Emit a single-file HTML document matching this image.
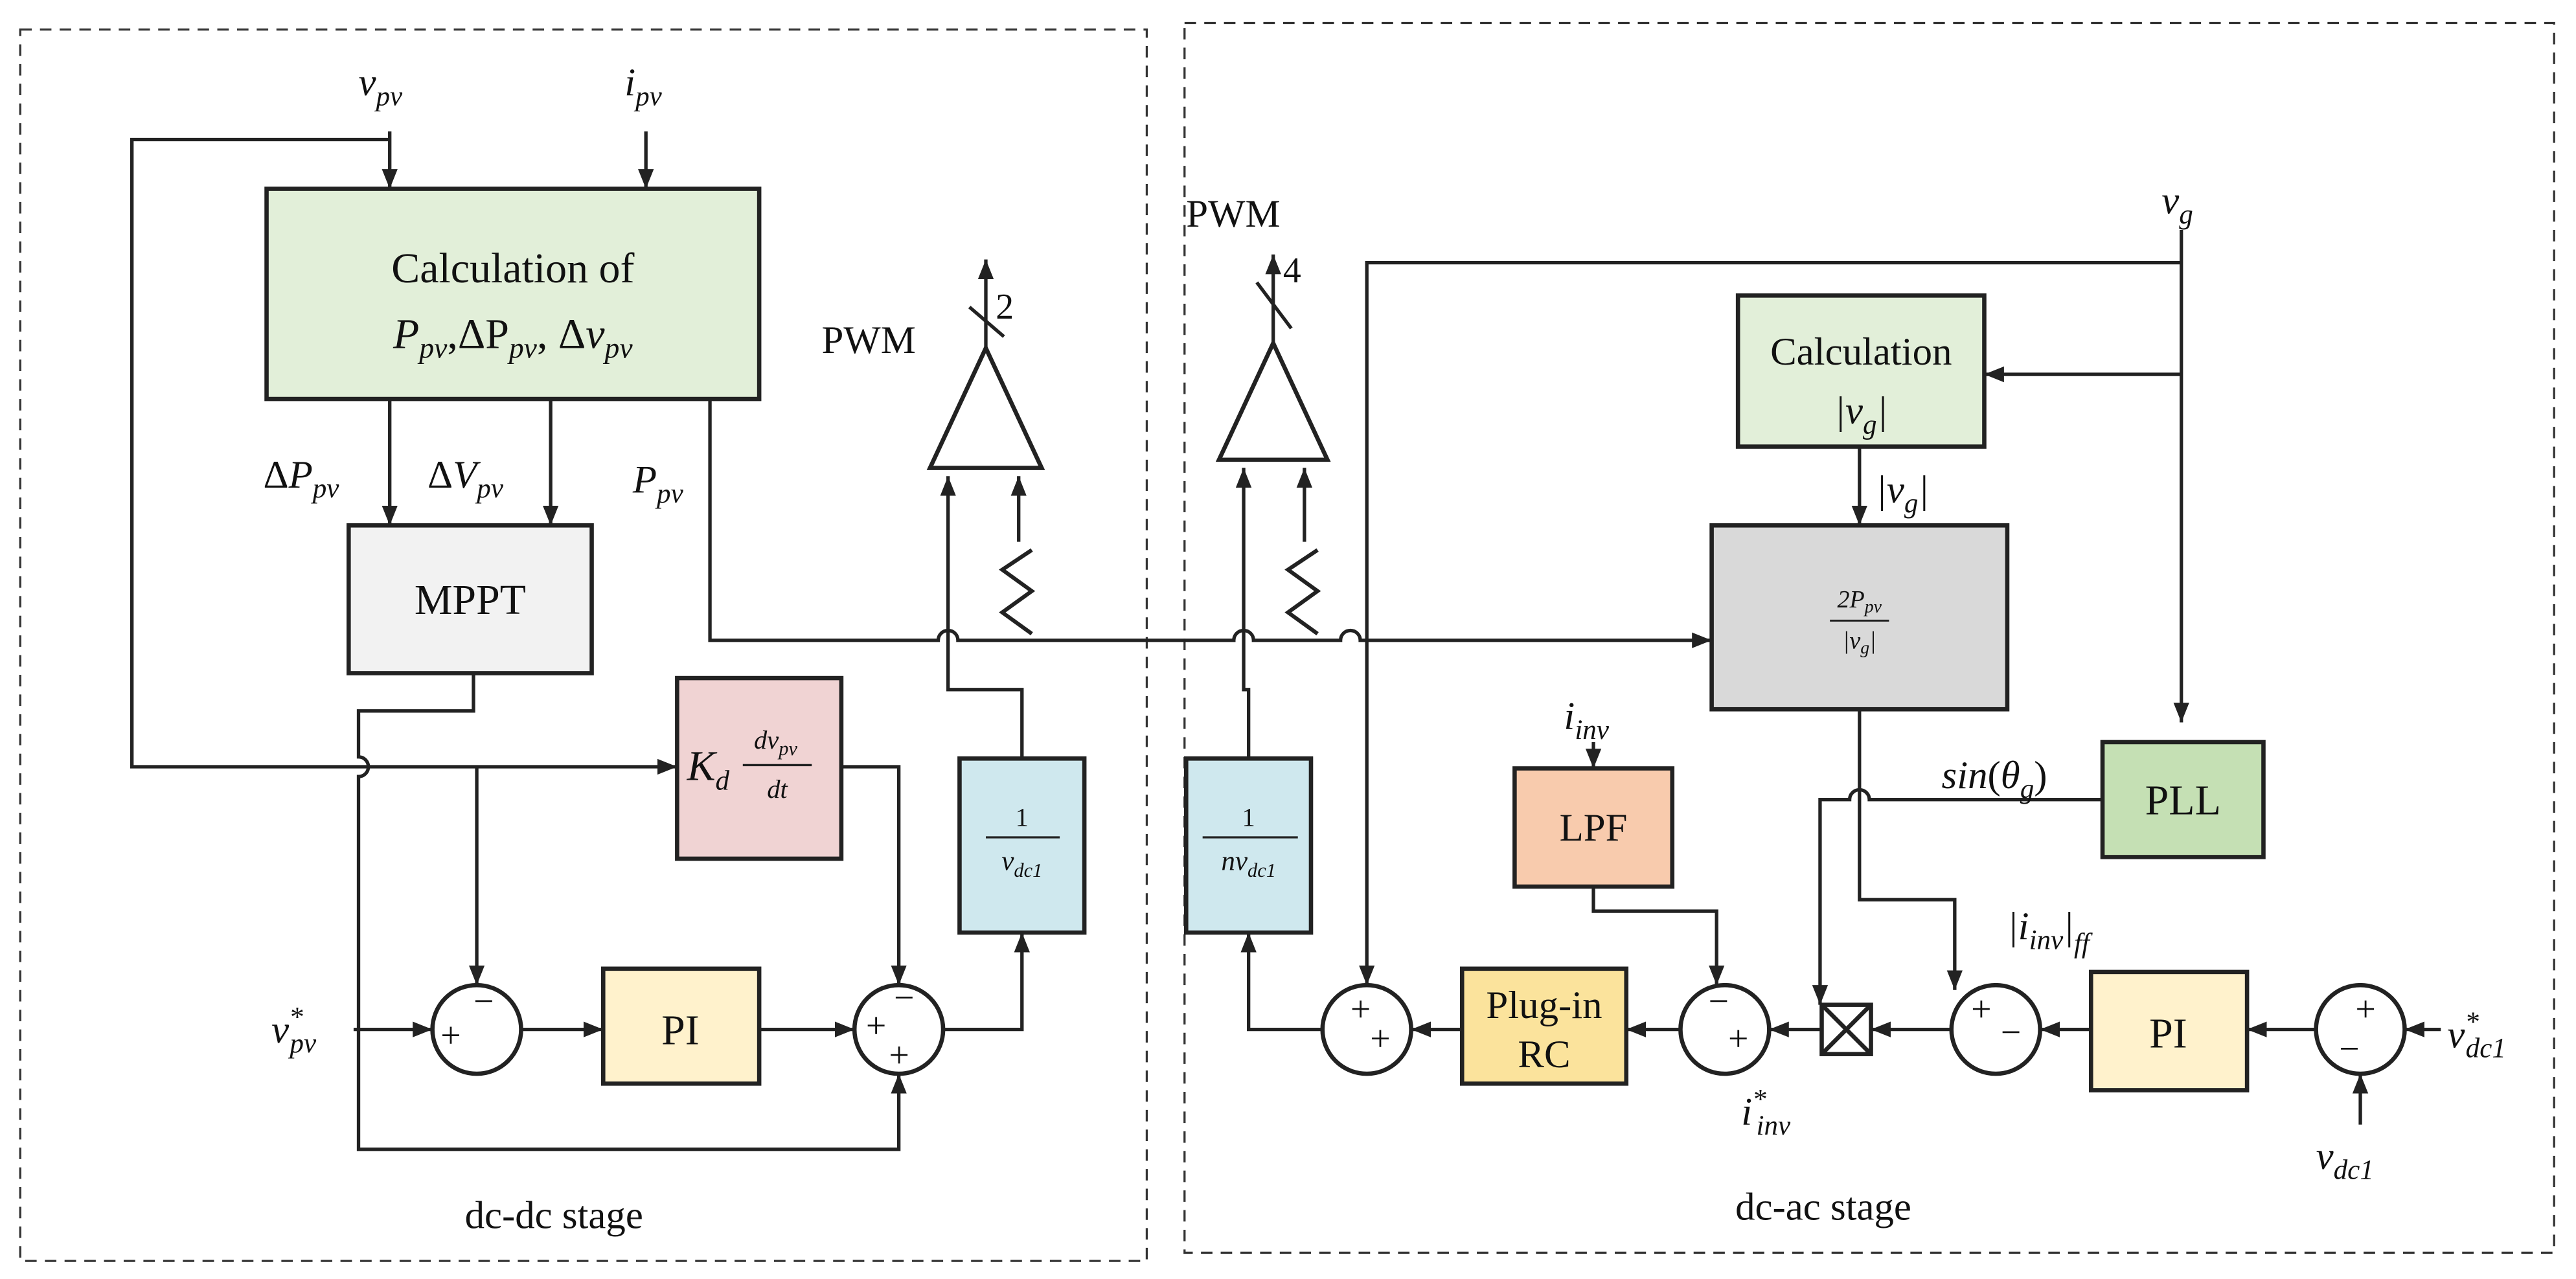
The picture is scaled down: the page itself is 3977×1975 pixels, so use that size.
<!DOCTYPE html>
<html><head><meta charset="utf-8"><style>
html,body{margin:0;padding:0;background:#fff}
svg{display:block}
text{font-family:"Liberation Serif",serif;fill:#111}
.i{font-style:italic}
</style></head><body>
<svg width="3977" height="1975" viewBox="0 0 1568 779" xmlns="http://www.w3.org/2000/svg">
<defs>
<marker id="a" viewBox="0 0 10 10" refX="10" refY="5" markerWidth="12" markerHeight="12" markerUnits="userSpaceOnUse" orient="auto"><path d="M0,1 L10,5 L0,9 z" fill="#222"/></marker>
</defs>
<g fill="none" stroke="#333" stroke-width="1.3" stroke-dasharray="7,5">
<rect x="12" y="18" width="686" height="750"/>
<rect x="721" y="14" width="834" height="749"/>
</g>
<g stroke="#222" stroke-width="2.6">
<rect x="162" y="115" width="300" height="128" fill="#e2efd9"/>
<rect x="212" y="320" width="148" height="90" fill="#f2f2f2"/>
<rect x="412" y="413" width="100" height="110" fill="#f0d3d3"/>
<rect x="584" y="462" width="76" height="106" fill="#cfe8ee"/>
<rect x="367" y="590" width="95" height="70" fill="#fff2cc"/>
<rect x="722" y="462" width="76" height="106" fill="#cfe8ee"/>
<rect x="1058" y="180" width="150" height="92" fill="#e2efd9"/>
<rect x="1042" y="320" width="180" height="112" fill="#d9d9d9"/>
<rect x="922" y="468" width="96" height="72" fill="#f8cbad"/>
<rect x="1280" y="452" width="98" height="70" fill="#c5e0b4"/>
<rect x="890" y="590" width="100" height="70" fill="#fbe39c"/>
<rect x="1273" y="592" width="95" height="72" fill="#fff2cc"/>
<rect x="1109" y="612" width="30" height="30" fill="#fff"/>
<path d="M1109,612 L1139,642 M1139,612 L1109,642"/>
<circle cx="290" cy="627" r="27" fill="#fff"/>
<circle cx="547" cy="627" r="27" fill="#fff"/>
<circle cx="832" cy="627" r="27" fill="#fff"/>
<circle cx="1050" cy="627" r="27" fill="#fff"/>
<circle cx="1215" cy="627" r="27" fill="#fff"/>
<circle cx="1437" cy="627" r="27" fill="#fff"/>
<path d="M600,212 L634,285 L566,285 Z" fill="#fff"/>
<path d="M775,209 L808,280 L742,280 Z" fill="#fff"/>
</g>
<g stroke="#222" stroke-width="2.1" fill="none">
<path d="M237,80 V115" marker-end="url(#a)"/>
<path d="M393,80 V115" marker-end="url(#a)"/>
<path d="M237,85 H80 V467 H412" marker-end="url(#a)"/>
<path d="M237,243 V320" marker-end="url(#a)"/>
<path d="M335,243 V320" marker-end="url(#a)"/>
<path d="M288,410 V433 H218 V461 a6,6 0 0 1 0,12 V700 H547 V654" marker-end="url(#a)"/>
<path d="M290,467 V600" marker-end="url(#a)"/>
<path d="M512,467 H547 V600" marker-end="url(#a)"/>
<path d="M215,627 H263" marker-end="url(#a)"/>
<path d="M317,627 H367" marker-end="url(#a)"/>
<path d="M462,627 H520" marker-end="url(#a)"/>
<path d="M574,627 H622 V568" marker-end="url(#a)"/>
<path d="M622,462 V420 H577 V290" marker-end="url(#a)"/>
<path d="M620,330 V290" marker-end="url(#a)"/>
<path d="M628,335 L610,347 L628,360 L610,373 L628,386" stroke-width="2.4"/>
<path d="M600,212 V158" marker-end="url(#a)"/>
<path d="M590,187 L611,205" />
<path d="M432,243 V390 H571 a6,6 0 0 1 12,0 H751 a6,6 0 0 1 12,0 H816 a6,6 0 0 1 12,0 H1042" marker-end="url(#a)"/>
<path d="M760,462 V420 H757 V285" marker-end="url(#a)"/>
<path d="M794,330 V285" marker-end="url(#a)"/>
<path d="M802,335 L784,347 L802,360 L784,373 L802,386" stroke-width="2.4"/>
<path d="M775,209 V155" marker-end="url(#a)"/>
<path d="M765,172 L786,200"/>
<path d="M1328,140 V440" marker-end="url(#a)"/>
<path d="M1328,160 H832 V600" marker-end="url(#a)"/>
<path d="M1328,228 H1208" marker-end="url(#a)"/>
<path d="M1132,272 V320" marker-end="url(#a)"/>
<path d="M1132,432 V548 H1190 V603" marker-end="url(#a)"/>
<path d="M1280,487 H1138 a6,6 0 0 0 -12,0 H1108 V612" marker-end="url(#a)"/>
<path d="M970,540 V555 H1045 V600" marker-end="url(#a)"/>
<path d="M970,452 V468" marker-end="url(#a)"/>
<path d="M1486,627 H1464" marker-end="url(#a)"/>
<path d="M1437,685 V654" marker-end="url(#a)"/>
<path d="M1410,627 H1368" marker-end="url(#a)"/>
<path d="M1273,627 H1242" marker-end="url(#a)"/>
<path d="M1188,627 H1139" marker-end="url(#a)"/>
<path d="M1109,627 H1077" marker-end="url(#a)"/>
<path d="M1023,627 H990" marker-end="url(#a)"/>
<path d="M890,627 H859" marker-end="url(#a)"/>
<path d="M805,627 H760 V568" marker-end="url(#a)"/>
</g>
<g font-size="24">
<text x="218" y="58" class="i">v<tspan font-size="17" dy="6">pv</tspan></text>
<text x="380" y="58" class="i">i<tspan font-size="17" dy="6">pv</tspan></text>
<text x="312" y="172" text-anchor="middle" font-size="26">Calculation of</text>
<text x="312" y="212" text-anchor="middle" font-size="26" class="i">P<tspan font-size="18" dy="6">pv</tspan><tspan dy="-6" font-style="normal">,ΔP</tspan><tspan font-size="18" dy="6">pv</tspan><tspan dy="-6" font-style="normal">, Δ</tspan>v<tspan font-size="18" dy="6">pv</tspan></text>
<text x="160" y="297" class="i"><tspan font-style="normal">Δ</tspan>P<tspan font-size="17" dy="6">pv</tspan></text>
<text x="260" y="297" class="i"><tspan font-style="normal">Δ</tspan>V<tspan font-size="17" dy="6">pv</tspan></text>
<text x="385" y="300" class="i">P<tspan font-size="17" dy="6">pv</tspan></text>
<text x="286" y="374" text-anchor="middle" font-size="26">MPPT</text>
<text x="418" y="475" class="i" font-size="26">K<tspan font-size="17" dy="6">d</tspan></text>
<text x="472" y="456" class="i" font-size="16" text-anchor="middle">dv<tspan font-size="12" dy="4">pv</tspan></text>
<line x1="452" y1="466" x2="494" y2="466" stroke="#222" stroke-width="1.3"/>
<text x="473" y="486" class="i" font-size="16" text-anchor="middle">dt</text>
<text x="622" y="503" font-size="16" text-anchor="middle">1</text>
<line x1="600" y1="510" x2="645" y2="510" stroke="#222" stroke-width="1.3"/>
<text x="622" y="530" class="i" font-size="17" text-anchor="middle">v<tspan font-size="12" dy="4">dc1</tspan></text>
<text x="760" y="503" font-size="16" text-anchor="middle">1</text>
<line x1="732" y1="510" x2="790" y2="510" stroke="#222" stroke-width="1.3"/>
<text x="760" y="530" class="i" font-size="17" text-anchor="middle">nv<tspan font-size="12" dy="4">dc1</tspan></text>
<text x="414" y="636" text-anchor="middle" font-size="26">PI</text>
<text x="1320" y="638" text-anchor="middle" font-size="26">PI</text>
<text x="165" y="635" class="i">v<tspan font-size="17" dy="-10">*</tspan><tspan font-size="17" dy="16" dx="-8">pv</tspan></text>
<text x="500" y="215">PWM</text>
<text x="606" y="194" font-size="22">2</text>
<text x="722" y="138">PWM</text>
<text x="781" y="172" font-size="22">4</text>
<text x="1316" y="130" class="i">v<tspan font-size="17" dy="6">g</tspan></text>
<text x="1133" y="222" text-anchor="middle" font-size="24">Calculation</text>
<text x="1133" y="258" text-anchor="middle" class="i">|v<tspan font-size="17" dy="6">g</tspan><tspan dy="-6">|</tspan></text>
<text x="1142" y="306" class="i">|v<tspan font-size="17" dy="6">g</tspan><tspan dy="-6">|</tspan></text>
<text x="1132" y="370" text-anchor="middle" class="i" font-size="15">2P<tspan font-size="11" dy="3">pv</tspan></text>
<line x1="1114" y1="378" x2="1150" y2="378" stroke="#222" stroke-width="1.2"/>
<text x="1132" y="395" text-anchor="middle" class="i" font-size="15">|v<tspan font-size="11" dy="3">g</tspan><tspan dy="-3">|</tspan></text>
<text x="952" y="444" class="i">i<tspan font-size="17" dy="6">inv</tspan></text>
<text x="970" y="512" text-anchor="middle" font-size="24">LPF</text>
<text x="1329" y="496" text-anchor="middle" font-size="26">PLL</text>
<text x="1182" y="480" class="i">sin<tspan font-style="normal">(</tspan>θ<tspan font-size="17" dy="6">g</tspan><tspan dy="-6" font-style="normal">)</tspan></text>
<text x="1222" y="572" class="i">|i<tspan font-size="17" dy="6">inv</tspan><tspan dy="-6">|</tspan><tspan font-size="17" dy="8">ff</tspan></text>
<text x="940" y="620" text-anchor="middle" font-size="24">Plug-in</text>
<text x="940" y="650" text-anchor="middle" font-size="24">RC</text>
<text x="1060" y="685" class="i">i<tspan font-size="17" dy="-10">*</tspan><tspan font-size="17" dy="16" dx="-6">inv</tspan></text>
<text x="1490" y="638" class="i">v<tspan font-size="17" dy="-10">*</tspan><tspan font-size="17" dy="16" dx="-8">dc1</tspan></text>
<text x="1410" y="712" class="i">v<tspan font-size="17" dy="6">dc1</tspan></text>
<text x="337" y="748" text-anchor="middle">dc-dc stage</text>
<text x="1110" y="743" text-anchor="middle">dc-ac stage</text>
</g>
<g font-size="22" font-family="Liberation Sans">
<text x="268" y="638">+</text><text x="288" y="617">−</text>
<text x="527" y="632">+</text><text x="544" y="615">−</text><text x="541" y="650">+</text>
<text x="822" y="622">+</text><text x="834" y="640">+</text>
<text x="1040" y="617">−</text><text x="1052" y="640">+</text>
<text x="1200" y="622">+</text><text x="1218" y="636">−</text>
<text x="1434" y="622">+</text><text x="1424" y="646">−</text>
</g>
</svg>
</body></html>
